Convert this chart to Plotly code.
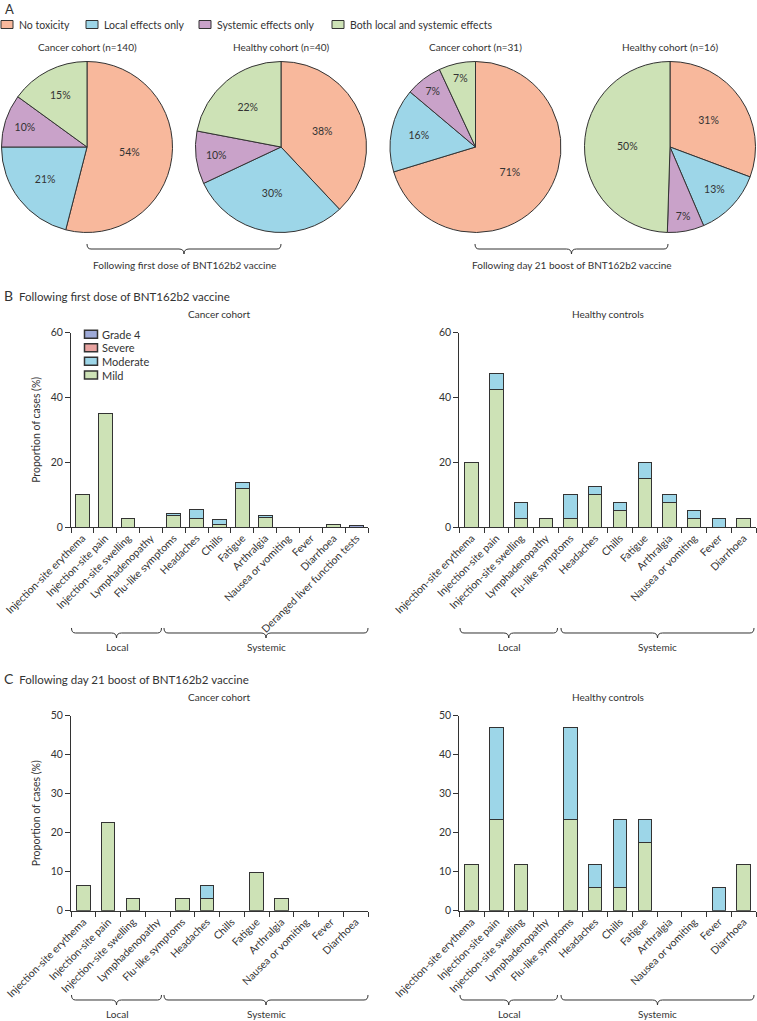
import plotly.graph_objects as go

W, H = 757, 1021
FONT = "Lato, 'Liberation Sans', sans-serif"
INK = "#333333"

# ---------------- data ----------------
pie_labels = ["No toxicity", "Local effects only", "Systemic effects only",
              "Both local and systemic effects"]
pie_colors = ["#F8B89C", "#9DD6E8", "#C9A2C9", "#CDE2B6"]
pie_titles = ["Cancer cohort (n=140)", "Healthy cohort (n=40)",
              "Cancer cohort (n=31)", "Healthy cohort (n=16)"]
pie_cancer_first = [54, 21, 10, 15]
pie_healthy_first = [38, 30, 10, 22]
pie_cancer_boost = [71, 16, 7, 7]
pie_healthy_boost = [31, 13, 7, 50]

cats_b_cancer = ["Injection-site erythema", "Injection-site pain", "Injection-site swelling",
                 "Lymphadenopathy", "Flu-like symptoms", "Headaches", "Chills", "Fatigue",
                 "Arthralgia", "Nausea or vomiting", "Fever", "Diarrhoea",
                 "Deranged liver function tests"]
cats_12 = ["Injection-site erythema", "Injection-site pain", "Injection-site swelling",
           "Lymphadenopathy", "Flu-like symptoms", "Headaches", "Chills", "Fatigue",
           "Arthralgia", "Nausea or vomiting", "Fever", "Diarrhoea"]

b_cancer_mild = [10, 35.2, 2.5, 0, 3.6, 2.7, 0.7, 11.9, 2.9, 0, 0, 0.7, 0]
b_cancer_moderate = [0, 0, 0, 0, 0.7, 2.6, 1.7, 1.9, 0.6, 0, 0, 0, 0]
b_cancer_severe = [0, 0, 0, 0, 0, 0, 0, 0, 0, 0, 0, 0, 0]
b_cancer_grade4 = [0, 0, 0, 0, 0, 0, 0, 0, 0, 0, 0, 0, 0.6]

b_healthy_mild = [20, 42.5, 2.5, 2.5, 2.5, 10, 5, 15, 7.5, 2.5, 0, 2.5]
b_healthy_moderate = [0, 5, 5, 0, 7.5, 2.5, 2.5, 5, 2.5, 2.5, 2.5, 0]

c_cancer_mild = [6.5, 22.6, 3.2, 0, 3.2, 3.2, 0, 9.7, 3.2, 0, 0, 0]
c_cancer_moderate = [0, 0, 0, 0, 0, 3.3, 0, 0, 0, 0, 0, 0]

c_healthy_mild = [11.8, 23.5, 11.8, 0, 23.5, 5.9, 5.9, 17.6, 0, 0, 0, 11.8]
c_healthy_moderate = [0, 23.5, 0, 0, 23.5, 5.9, 17.6, 5.9, 0, 0, 5.9, 0]

grade_names = ["Mild", "Moderate", "Severe", "Grade 4"]
grade_colors = ["#CDE2B6", "#9DD6E8", "#E8A3A0", "#9EAAD8"]

# ---------------- helpers ----------------
def px(x):
    return x / W

def py(y):
    return 1 - y / H

def nz(arr):
    return [v if v else None for v in arr]

fig = go.Figure()

# ---------------- pies ----------------
pie_centers = [87, 281, 475.5, 670]
R = 85.5
for i, (vals, cx) in enumerate(zip(
        [pie_cancer_first, pie_healthy_first, pie_cancer_boost, pie_healthy_boost], pie_centers)):
    fig.add_trace(go.Pie(
        values=vals, labels=pie_labels, text=[f"{v}%" for v in vals],
        textinfo="text", textposition="inside", insidetextorientation="horizontal",
        textfont=dict(size=10.5, color=INK, family=FONT),
        sort=False, direction="clockwise", rotation=0,
        marker=dict(colors=pie_colors, line=dict(color=INK, width=1)),
        domain=dict(x=[px(cx - R), px(cx + R)], y=[py(147 + R), py(147 - R)]),
        showlegend=False, hoverinfo="label+text",
    ))

# ---------------- bars ----------------
panels = [
    ("x", "y", cats_b_cancer, [b_cancer_mild, b_cancer_moderate, b_cancer_severe, b_cancer_grade4], 0.6),
    ("x2", "y2", cats_12, [b_healthy_mild, b_healthy_moderate], 0.54),
    ("x3", "y3", cats_12, [c_cancer_mild, c_cancer_moderate], 0.54),
    ("x4", "y4", cats_12, [c_healthy_mild, c_healthy_moderate], 0.54),
]
for xa, ya, cats, series, bw in panels:
    for k, ser in enumerate(series):
        fig.add_trace(go.Bar(
            x=cats, y=nz(ser), name=grade_names[k], xaxis=xa, yaxis=ya,
            marker=dict(color=grade_colors[k], line=dict(color=INK, width=1)),
            width=bw, showlegend=False,
        ))

xcommon = dict(type="category", showline=True, linecolor=INK, linewidth=1,
               ticks="outside", tickson="boundaries", ticklen=5, tickcolor=INK,
               tickangle=-45, tickfont=dict(size=10.5, color=INK, family=FONT),
               showgrid=False, zeroline=False, fixedrange=True, automargin=False)
ycommon = dict(showline=True, linecolor=INK, linewidth=1, ticks="outside",
               ticklen=5, tickcolor=INK, tickfont=dict(size=10.5, color=INK, family=FONT),
               showgrid=False, zeroline=False, fixedrange=True, automargin=False)
ytitle = dict(text="Proportion of cases (%)", font=dict(size=10.5, color=INK, family=FONT), standoff=8)

xl = [px(71), px(368)]
xr = [px(459.3), px(756)]
yB = [py(527), py(332.7)]
yC = [py(910.7), py(715.7)]

fig.update_layout(
    width=W, height=H, margin=dict(l=0, r=0, t=0, b=0, autoexpand=False),
    paper_bgcolor="white", plot_bgcolor="white",
    font=dict(family=FONT, color=INK, size=10),
    barmode="stack", showlegend=False,
    xaxis=dict(**xcommon, domain=xl, anchor="y"),
    yaxis=dict(**ycommon, domain=yB, anchor="x", range=[0, 60], tickvals=[0, 20, 40, 60], title=ytitle),
    xaxis2=dict(**xcommon, domain=xr, anchor="y2"),
    yaxis2=dict(**ycommon, domain=yB, anchor="x2", range=[0, 60], tickvals=[0, 20, 40, 60]),
    xaxis3=dict(**xcommon, domain=xl, anchor="y3"),
    yaxis3=dict(**ycommon, domain=yC, anchor="x3", range=[0, 50], tickvals=[0, 10, 20, 30, 40, 50], title=ytitle),
    xaxis4=dict(**xcommon, domain=xr, anchor="y4"),
    yaxis4=dict(**ycommon, domain=yC, anchor="x4", range=[0, 50], tickvals=[0, 10, 20, 30, 40, 50]),
)

# ---------------- annotations ----------------
ann = []
shapes = []

def text(x, y, s, size=10, xanchor="center"):
    ann.append(dict(x=px(x), y=py(y), xref="paper", yref="paper", text=s, showarrow=False,
                    xanchor=xanchor, yanchor="middle", font=dict(size=size, color=INK, family=FONT)))

def swatch(x0, yc, w, h, color, lw=1):
    shapes.append(dict(type="rect", xref="paper", yref="paper",
                       x0=px(x0), x1=px(x0 + w), y0=py(yc + h / 2), y1=py(yc - h / 2),
                       fillcolor=color, line=dict(color=INK, width=lw)))

text(3, 9, "A", size=13, xanchor="left")

# pie legend
pie_leg_x = [1, 86, 199, 332]
for lab, col, lx in zip(pie_labels, pie_colors, pie_leg_x):
    swatch(lx, 24.5, 12, 8, col)
    text(lx + 16, 24.5, lab, size=10.5, xanchor="left")

for t, cx in zip(pie_titles, pie_centers):
    text(cx, 47, t)
text(184, 265, "Following first dose of BNT162b2 vaccine")
text(572, 265, "Following day 21 boost of BNT162b2 vaccine")
text(2, 295, '<span style="font-size:14px">B</span>  Following first dose of BNT162b2 vaccine', size=11.5, xanchor="left")
text(2, 678, '<span style="font-size:14px">C</span>  Following day 21 boost of BNT162b2 vaccine', size=11.5, xanchor="left")
text(219, 314, "Cancer cohort")
text(607.5, 314, "Healthy controls")
text(219, 697, "Cancer cohort")
text(607.5, 697, "Healthy controls")
for y in (647, 1014):
    text(117, y, "Local")
    text(266, y, "Systemic")
    text(509, y, "Local")
    text(657, y, "Systemic")

# bar legend (Grade 4 on top)
bar_leg_y = [375, 361.3, 347.7, 334.3]
for name, col, ly in zip(grade_names, grade_colors, bar_leg_y):
    swatch(84.5, ly, 13, 8, col, lw=1.5)
    text(100, ly, name, size=11, xanchor="left")

# ---------------- braces ----------------
def brace(x0, x1, y0, d=10):
    xm = (x0 + x1) / 2
    h = d / 2
    pts = [
        ("M", x0, y0), ("Q", x0, y0 + h, x0 + 4, y0 + h), ("L", xm - 5, y0 + h),
        ("Q", xm, y0 + h, xm, y0 + d), ("Q", xm, y0 + h, xm + 5, y0 + h),
        ("L", x1 - 4, y0 + h), ("Q", x1, y0 + h, x1, y0),
    ]
    path = ""
    for p in pts:
        coords = p[1:]
        s = [f"{px(coords[j]):.5f},{py(coords[j + 1]):.5f}" for j in range(0, len(coords), 2)]
        path += p[0] + " ".join(s) + " "
    shapes.append(dict(type="path", xref="paper", yref="paper", path=path.strip(),
                       line=dict(color=INK, width=1)))

brace(87, 281, 244)
brace(475, 668, 244)
for y0 in (628, 995):
    brace(71.5, 161.5, y0)
    brace(164, 368, y0)
    brace(460, 557.5, y0)
    brace(561, 754, y0)

fig.update_layout(annotations=ann, shapes=shapes)
fig.write_html("out.html", config={"displayModeBar": False},
               post_script="document.body.style.margin='0';document.body.style.overflow='hidden';")
